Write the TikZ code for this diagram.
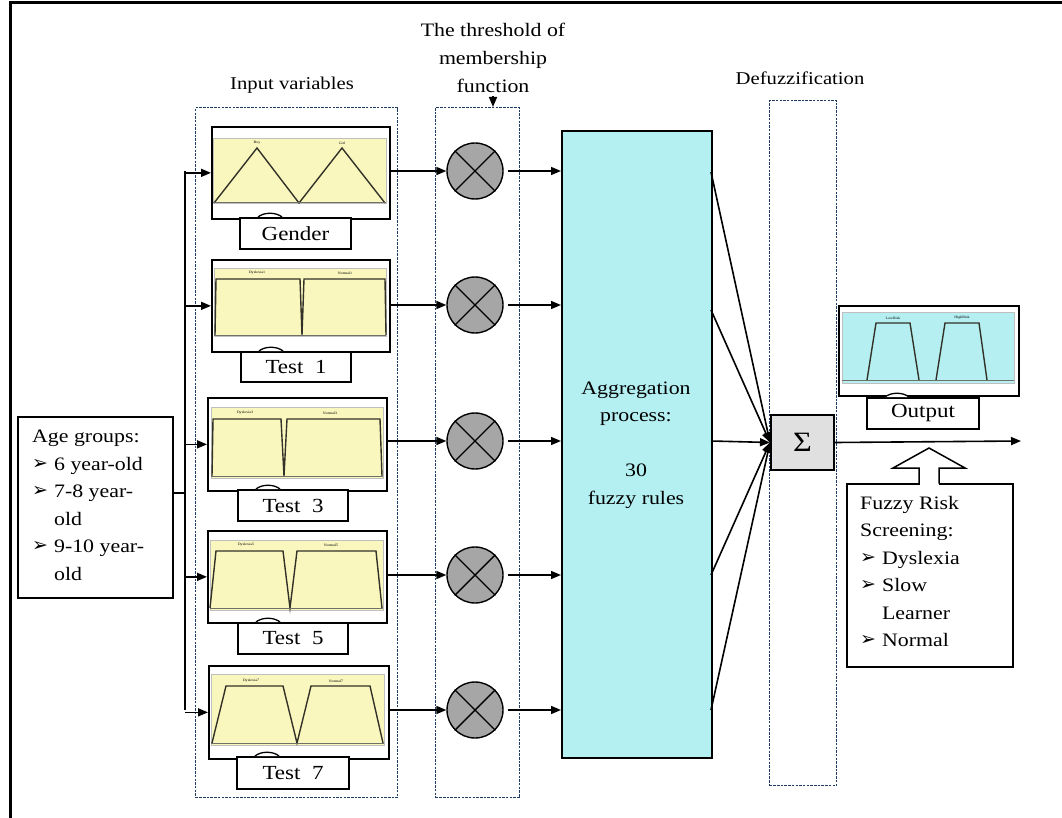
\documentclass[tikz,border=0pt]{standalone}
\usepackage{fontspec}
\setmainfont{Liberation Serif}[FakeStretch=1.15]
\newfontfamily\dv{DejaVu Sans}
\usetikzlibrary{arrows.meta}
\definecolor{dashc}{RGB}{30,60,100}
\definecolor{yfill}{RGB}{250,247,190}
\definecolor{cfill}{RGB}{181,239,241}
\definecolor{aggfill}{RGB}{180,239,241}
\definecolor{sigfill}{RGB}{224,224,224}
\definecolor{cirfill}{RGB}{166,166,166}
\definecolor{curve}{RGB}{50,50,40}
\newcommand\bl{\raisebox{1pt}{\dv\fontsize{19}{19}\selectfont ➢}\hspace{6pt}}
\newcommand\ind{\hphantom{{\dv\fontsize{19}{19}\selectfont ➢}\hspace{6pt}}}
\begin{document}
\begin{tikzpicture}[x=1pt,y=-1pt,
  arr/.style={-{Triangle[length=10pt,width=8pt]}, line width=1.6pt},
  dbox/.style={draw=dashc, dash pattern=on 2.5pt off 1.2pt, line width=1.3pt, anchor=north west, inner sep=0},
  pbox/.style={draw, line width=1.7pt, fill=white, anchor=north west, inner sep=0},
  lbox/.style={draw, line width=2pt, fill=white, anchor=north west, inner sep=0, font=\fontsize{20}{20}\selectfont},
  cir/.style={circle, draw, line width=1.4pt, fill=cirfill, minimum size=56pt, inner sep=0},
  mf/.style={line width=1.4pt, draw=curve},
  tiny/.style={font=\fontsize{3.5}{4}\selectfont, inner sep=0},
  txt/.style={font=\fontsize{19}{27.5}\selectfont, inner sep=0}]
\useasboundingbox (0,0) rectangle (1062,818);
% outer frame
\draw[line width=3pt] (10,818) -- (10,3) -- (1062,3);

% dashed group boxes
\node[dbox, minimum width=202pt, minimum height=690pt] (inbox) at (195,107) {};
\node[dbox, minimum width=84pt, minimum height=690pt] (thrbox) at (435,107) {};
\node[dbox, minimum width=67pt, minimum height=685pt] (defbox) at (769,100) {};

% headings
\node[txt, font=\fontsize{18}{20}\selectfont] (inlab) at (292,85) {Input variables};
\node[txt, anchor=north, align=center, font=\fontsize{19}{28}\selectfont] (thrlab) at (493,23) {The threshold of\\membership\\function};
\node[txt, font=\fontsize{18}{20}\selectfont] (deflab) at (800,78) {Defuzzification};
\coordinate (thrtip) at (493,96);
\draw[arr] (thrtip) -- (thrtip |- thrbox.north);

% age groups
\node[draw, line width=1.6pt, anchor=north west, minimum width=155pt, minimum height=181pt, inner sep=0] (age) at (17,416) {};
\node[txt, anchor=north west, align=left] (agetxt) at (32,430) {Age groups:\\ \bl 6 year-old\\ \bl 7-8 year-\\ \ind old\\ \bl 9-10 year-\\ \ind old};
\coordinate (bus) at (185,493);
\coordinate (bustop) at (185,171);
\coordinate (busbot) at (185,710);
\draw[line width=1.5pt] (age.east |- bus) -- (bus);
\draw[line width=1.5pt] (bustop) -- (busbot);

% plot boxes
\node[pbox, minimum width=178pt, minimum height=92pt] (pG) at (211,126) {};
\node[pbox, minimum width=178pt, minimum height=92pt] (p1) at (211,259) {};
\node[pbox, minimum width=179pt, minimum height=93pt] (p3) at (207,397) {};
\node[pbox, minimum width=179pt, minimum height=92pt] (p5) at (207,530) {};
\node[pbox, minimum width=180pt, minimum height=93pt] (p7) at (208,665) {};

% Gender plot
\fill[yfill, draw=gray!50, line width=0.4pt] (213,138) rectangle (386,203);
\draw[mf] (214,203) -- (257,148) -- (299,203) -- (342,148) -- (385,203);
\draw[line width=1pt, draw=curve!70] (213,203) -- (386,203);
\node[tiny] (tg1) at (257,143) {Boy};
\node[tiny] (tg2) at (342,143) {Girl};

% Test 1 plot
\fill[yfill, draw=gray!50, line width=0.4pt] (214,268) rectangle (386,336);
\draw[mf] (215,335) -- (216,279) -- (300,279) -- (302,335) -- (304,279) -- (385,279) -- (386,335);
\draw[line width=1pt, draw=curve!70] (214,335) -- (386,335);
\node[tiny] (t11) at (257,273) {Dyslexia1};
\node[tiny] (t12) at (345,273) {Normal1};

% Test 3 plot
\fill[yfill, draw=gray!50, line width=0.4pt] (211,407) rectangle (383,478);
\draw[mf] (212,476) -- (213,419) -- (281,419) -- (284,476) -- (287,419) -- (380,419) -- (382,476);
\draw[line width=1pt, draw=curve!70] (211,476) -- (383,476);
\node[tiny] (t31) at (245,413) {Dyslexia3};
\node[tiny] (t32) at (330,413) {Normal3};

% Test 5 plot
\fill[yfill, draw=gray!50, line width=0.4pt] (210,540) rectangle (383,610);
\draw[mf] (210,608) -- (216,551) -- (283,551) -- (290,608) -- (297,551) -- (376,551) -- (382,608);
\draw[line width=1pt, draw=curve!70] (210,608) -- (383,608);
\node[tiny] (t51) at (246,545) {Dyslexia5};
\node[tiny] (t52) at (331,545) {Normal5};

% Test 7 plot
\fill[yfill, draw=gray!50, line width=0.4pt] (211,674) rectangle (384,745);
\draw[mf] (212,743) -- (226,686) -- (283,686) -- (297,743) -- (311,686) -- (370,686) -- (383,743);
\draw[line width=1pt, draw=curve!70] (211,743) -- (384,743);
\node[tiny] (t71) at (251,681) {Dyslexia7};
\node[tiny] (t72) at (336,681) {Normal7};

% label boxes with small arches
\foreach \nm/\x/\y/\w/\h/\t in {lG/239/217/111/31/Gender, l1/240/351/110/30/Test~~1, l3/237/489/110/31/Test~~3, l5/237/622/110/31/Test~~5, l7/236/756/112/32/Test~~7}{
  \node[lbox, minimum width=\w pt, minimum height=\h pt] (\nm) at (\x,\y) {\t};
  \filldraw[fill=white, line width=1.3pt] (\x+19,\y) .. controls (\x+25,\y-5) and (\x+37,\y-5) .. (\x+43,\y);
}

% arrows from bus to plots
\foreach \p in {pG,p1,p3,p5,p7}{
  \draw[arr] (\p.west -| bustop) -- (\p.west);
}

% circles
\foreach \c/\p/\yy in {cG/pG/171, c1/p1/305, c3/p3/441, c5/p5/575, c7/p7/710}{
  \node[cir] (\c) at (475,\yy) {};
  \draw[line width=1.4pt] (\c.north east) -- (\c.south west);
  \draw[line width=1.4pt] (\c.north west) -- (\c.south east);
  \draw[arr] (\p.east |- \c) -- (\c.west);
}

% aggregation
\node[draw, line width=1.6pt, fill=aggfill, anchor=north west, minimum width=150pt, minimum height=627pt, inner sep=0] (agg) at (561,130) {};
\node[txt, align=center] (aggtxt) at (636,445) {Aggregation\\process:\\[27.5pt]30\\fuzzy rules};
\foreach \c in {cG,c1,c3,c5,c7}{
  \draw[arr] ([xshift=4pt]\c.east) -- (\c.east -| agg.west);
}

% sigma
\node[draw, line width=2pt, fill=sigfill, anchor=north west, minimum width=63pt, minimum height=55pt, inner sep=0, font=\fontsize{28}{28}\selectfont] (sig) at (770,414) {Σ};
\foreach \yy in {172,310,441,575,710}{
  \draw[arr] (711,\yy) -- (sig.west);
}
\coordinate (outend) at (1021,441);
\draw[arr] (sig.east) -- (outend);

% output plot
\node[pbox, minimum width=180pt, minimum height=90pt] (pO) at (838,305) {};
\fill[cfill, draw=gray!50, line width=0.4pt] (842,312) rectangle (1014,383);
\draw[mf] (867,380) -- (876,323) -- (910,323) -- (919,380);
\draw[mf] (936,380) -- (945,323) -- (979,323) -- (987,380);
\draw[line width=1pt, draw=curve!70] (842,380) -- (1014,380);
\node[tiny] (to1) at (893,318) {LowRisk};
\node[tiny] (to2) at (962,318) {HighRisk};
\node[lbox, minimum width=112pt, minimum height=31pt] (lO) at (866,397) {Output};
\filldraw[fill=white, line width=1.3pt] (885,397) .. controls (891,392) and (903,392) .. (909,397);

% fuzzy risk box
\node[draw, line width=1.6pt, anchor=north west, minimum width=166pt, minimum height=183pt, inner sep=0] (risk) at (846,483) {};
\node[txt, anchor=north west, align=left] (risktxt) at (860,496) {Fuzzy Risk\\Screening:\\ \bl Dyslexia\\ \bl Slow\\ \ind Learner\\ \bl Normal};
\fill[white] (919.5,480) rectangle (938.5,486);
\draw[line width=1.5pt, line join=miter] (919,483.5) -- (919,468) -- (893,468) -- (929,448) -- (965,468) -- (939,468) -- (939,483.5);
\end{tikzpicture}
\end{document}
